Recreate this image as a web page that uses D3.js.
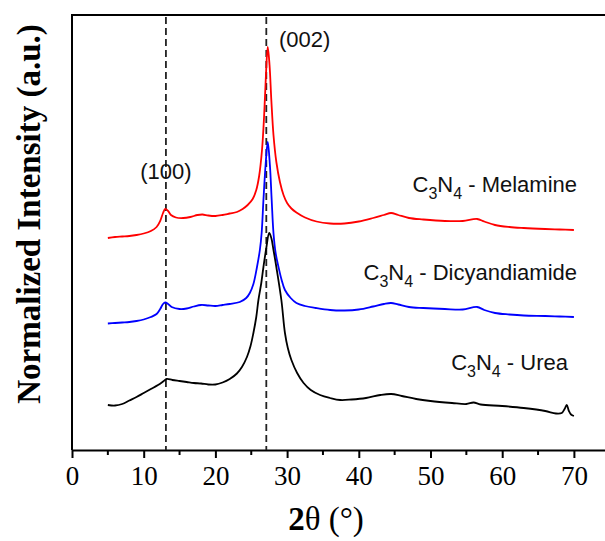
<!DOCTYPE html>
<html>
<head>
<meta charset="utf-8">
<script src="https://cdn.jsdelivr.net/npm/d3@7/dist/d3.min.js"></script>
<style>
  html, body { margin: 0; padding: 0; background: #fff; }
  svg { display: block; }
</style>
</head>
<body>
<svg id="chart" width="605" height="541"></svg>
<script>
// XRD patterns of C3N4 made from three precursors (2θ in degrees, stacked normalized intensity in a.u.)
const melamine = [
  [5, 212], [6, 213], [7, 213.5], [8, 214], [9, 215], [10, 216.5], [11, 219], [11.8, 223],
  [12.3, 229], [12.7, 237], [13.0, 241], [13.4, 239], [13.8, 235], [14.5, 232.5], [15.5, 232],
  [16.5, 233], [17.5, 235], [18.2, 235.5], [19, 234.5], [20, 234], [21, 235], [22, 236.5],
  [23, 238], [23.8, 241], [24.5, 245], [25.2, 251], [25.7, 260], [26.1, 274], [26.5, 300],
  [26.8, 335], [27.05, 375], [27.3, 403], [27.55, 385], [27.8, 350], [28.1, 315], [28.5, 288],
  [29, 268], [29.5, 255], [30, 247], [30.6, 241.5], [31.3, 237.5], [32.5, 232.5], [34.1, 228.5],
  [36, 226.5], [38, 226.5], [40, 228.5], [42, 232], [43.5, 235], [44.5, 237], [45.5, 235],
  [47, 232], [49, 230.5], [52, 229], [54.5, 229], [56.5, 231], [57.5, 228.5], [59, 225],
  [61, 223], [63, 222], [66, 221], [68, 220.5], [70, 220]
];
const dicyandiamide = [
  [5, 126.5], [6, 127], [7, 127.5], [8, 128], [9, 129], [10, 130.5], [11, 133], [11.8, 136],
  [12.3, 141], [12.7, 146], [13.0, 147.5], [13.4, 146], [13.9, 143], [15, 141], [16, 141.5],
  [17, 143.5], [18, 145], [19, 144.5], [20, 144], [21, 145], [22, 146], [23.4, 148],
  [24.3, 152], [24.8, 157], [25.3, 166], [25.8, 183], [26.2, 200], [26.45, 217], [26.7, 250],
  [27.0, 285], [27.3, 308], [27.6, 285], [27.85, 250], [28.1, 217], [28.4, 197], [28.8, 183],
  [29.2, 171], [29.7, 160], [30.5, 152], [31.3, 147], [32.5, 144], [34, 142], [36, 140],
  [38, 139.5], [40, 140.5], [42, 143.5], [43.5, 146], [44.5, 147], [45.5, 145.5], [47, 143],
  [49, 142], [52, 141], [54.5, 140.5], [56.5, 143], [57.5, 140], [59, 137], [61, 135.5],
  [63, 134.5], [66, 134], [68, 133.5], [70, 133]
];
const urea = [
  [5, 45], [6, 44.5], [7, 46], [8, 49.5], [9, 53], [10, 57], [11, 61], [12, 65],
  [12.8, 69], [13.2, 71], [14, 70], [15, 69], [16, 68], [17, 67], [18, 66.5], [19, 65.5],
  [20, 65.5], [21, 67.5], [22, 71], [23, 76.5], [23.7, 83], [24.4, 93], [24.9, 104], [25.3, 117],
  [25.7, 133], [26.0, 150], [26.4, 167], [26.7, 183], [27.1, 202], [27.5, 217], [27.8, 212],
  [28.1, 200], [28.5, 183], [29.2, 150], [29.7, 117], [30.1, 102], [30.6, 90], [31.4, 77],
  [32.3, 67], [33.3, 60], [34.6, 55], [36, 52], [37.4, 50], [39, 50.5], [41, 52], [43, 55],
  [44.5, 56], [46, 54], [48, 51], [50, 49], [53, 47], [55, 46], [56, 47.5], [57, 45.5],
  [60, 44], [63, 42], [66, 39], [67.5, 36.5], [68.3, 37], [68.7, 41], [69.0, 45], [69.3, 39],
  [69.6, 35.5], [70, 34]
];
const seriesNames = ["Melamine", "Dicyandiamide", "Urea"];
const seriesColors = ["#ff0000", "#0000ff", "#000000"];
const peakPositions = [13.1, 27.1];
const peakLabels = ["(100)", "(002)"];
const xTickValues = [0, 10, 20, 30, 40, 50, 60, 70];
const xMinorTicks = [5, 15, 25, 35, 45, 55, 65, 75];

const svg = d3.select("#chart");
const plotLeft = 72, plotTop = 15, plotBottom = 450;

const x = d3.scaleLinear().domain([0, 80]).range([plotLeft, plotLeft + 7.17 * 80]);
const y = d3.scaleLinear().domain([0, 435]).range([plotBottom, plotTop]);

// frame: top border and left axis
svg.append("line").attr("x1", plotLeft).attr("x2", 610).attr("y1", plotTop).attr("y2", plotTop)
  .attr("stroke", "#000").attr("stroke-width", 2);
svg.append("line").attr("x1", plotLeft).attr("x2", plotLeft).attr("y1", plotTop - 1).attr("y2", plotBottom)
  .attr("stroke", "#000").attr("stroke-width", 2);

// bottom axis with major and minor ticks
const xAxis = svg.append("g").attr("transform", `translate(0,${plotBottom})`)
  .call(d3.axisBottom(x).tickValues(xTickValues).tickSize(8).tickSizeOuter(0).tickFormat(d3.format("d")));
xAxis.select(".domain").attr("stroke-width", 2).attr("stroke", "#000");
xAxis.selectAll(".tick line").attr("stroke-width", 2);
xAxis.selectAll(".tick text")
  .attr("y", 35).attr("dy", 0)
  .attr("font-family", "'Liberation Serif', 'Times New Roman', serif")
  .attr("font-size", 27).attr("fill", "#000");
svg.append("g").attr("transform", `translate(0,${plotBottom})`)
  .selectAll("line").data(xMinorTicks).join("line")
  .attr("x1", d => x(d)).attr("x2", d => x(d)).attr("y1", 0).attr("y2", 5)
  .attr("stroke", "#000").attr("stroke-width", 2);

// dashed reference lines at the (100) and (002) reflections
svg.append("g").selectAll("line").data(peakPositions).join("line")
  .attr("x1", d => x(d)).attr("x2", d => x(d)).attr("y1", plotTop + 2).attr("y2", plotBottom)
  .attr("stroke", "#222").attr("stroke-width", 1.8).attr("stroke-dasharray", "7,4");

// diffraction patterns
const line = d3.line().x(d => x(d[0])).y(d => y(d[1])).curve(d3.curveCatmullRom.alpha(0.5));
[melamine, dicyandiamide, urea].forEach((s, i) => {
  svg.append("path").datum(s).attr("d", line)
    .attr("fill", "none").attr("stroke", seriesColors[i]).attr("stroke-width", 1.8)
    .attr("stroke-linejoin", "round");
});

// reflection labels
const sans = "'Liberation Sans', Arial, sans-serif";
svg.append("text").attr("x", x(peakPositions[0])).attr("y", 179).attr("text-anchor", "middle")
  .attr("font-family", sans).attr("font-size", 22).attr("fill", "#111").text(peakLabels[0]);
svg.append("text").attr("x", 279).attr("y", 47)
  .attr("font-family", sans).attr("font-size", 22).attr("fill", "#111").text(peakLabels[1]);

// sample names
const namePos = [[577, 192], [577, 280], [568, 370]];
seriesNames.forEach((n, i) => {
  const t = svg.append("text").attr("x", namePos[i][0]).attr("y", namePos[i][1])
    .attr("text-anchor", "end").attr("font-family", sans).attr("font-size", 22).attr("fill", "#111");
  t.append("tspan").text("C");
  t.append("tspan").attr("font-size", 16).attr("dy", 7).text("3");
  t.append("tspan").attr("dy", -7).text("N");
  t.append("tspan").attr("font-size", 16).attr("dy", 7).text("4");
  t.append("tspan").attr("dy", -7).text(" - " + n);
});

// axis titles
const serif = "'Liberation Serif', 'Times New Roman', serif";
const xt = svg.append("text").attr("x", 326).attr("y", 530).attr("text-anchor", "middle")
  .attr("font-family", serif).attr("font-size", 33).attr("fill", "#000");
xt.append("tspan").attr("font-weight", "bold").text("2");
xt.append("tspan").text("θ (°)");

svg.append("text").attr("transform", "translate(40,214) rotate(-90)").attr("text-anchor", "middle")
  .attr("font-family", serif).attr("font-size", 33).attr("font-weight", "bold").attr("fill", "#000")
  .text("Normalized Intensity (a.u.)");
</script>
</body>
</html>
